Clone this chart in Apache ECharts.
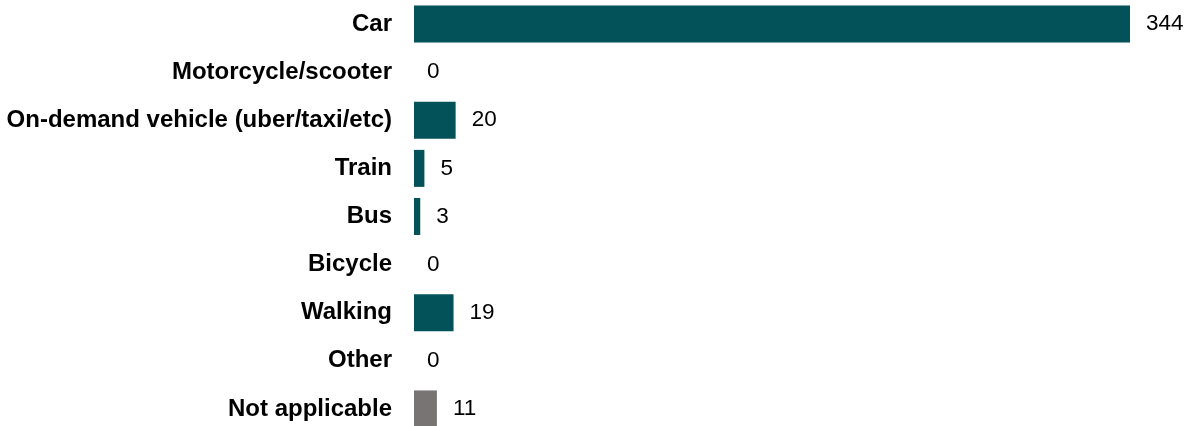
<!DOCTYPE html>
<html>
<head>
<meta charset="utf-8">
<script src="https://cdn.jsdelivr.net/npm/echarts@6/dist/echarts.min.js"></script>
<style>
  html, body { margin: 0; padding: 0; background: #ffffff; overflow: hidden; }
  /* the last row runs slightly past the bottom edge of the window */
  #chart { width: 1191px; height: 433px; }
</style>
</head>
<body>
<div id="chart"></div>
<script>
// Travel modes and respondent counts
const categories = [
  'Car',
  'Motorcycle/scooter',
  'On-demand vehicle (uber/taxi/etc)',
  'Train',
  'Bus',
  'Bicycle',
  'Walking',
  'Other',
  'Not applicable'
];
const counts = [344, 0, 20, 5, 3, 0, 19, 0, 11];

const TEAL = '#03525a';
const GREY = '#787473';

const seriesData = counts.map((v, i) => ({
  value: v,
  itemStyle: { color: categories[i] === 'Not applicable' ? GREY : TEAL },
  label: { distance: v === 0 ? 13 : 16 }
}));

const chart = echarts.init(document.getElementById('chart'), null, { renderer: 'canvas' });
chart.setOption({
  animation: false,
  backgroundColor: '#ffffff',
  grid: { left: 414, right: 61, top: 0, bottom: 0, containLabel: false },
  xAxis: {
    type: 'value',
    min: 0,
    max: 344,
    show: false
  },
  yAxis: {
    type: 'category',
    data: categories,
    inverse: true,
    axisLine: { show: false },
    axisTick: { show: false },
    splitLine: { show: false },
    axisLabel: {
      margin: 22,
      color: '#000000',
      fontFamily: 'Liberation Sans, Arial, sans-serif',
      fontWeight: 'bold',
      fontSize: 24
    }
  },
  series: [{
    type: 'bar',
    data: seriesData,
    barWidth: 37,
    label: {
      show: true,
      position: 'right',
      color: '#000000',
      fontFamily: 'Liberation Sans, Arial, sans-serif',
      fontSize: 22.5
    }
  }]
});
</script>
</body>
</html>
